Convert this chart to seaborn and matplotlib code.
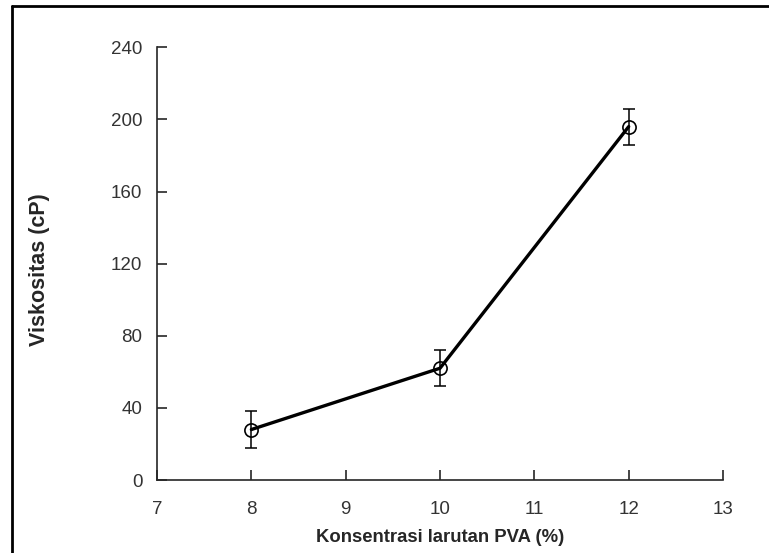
import matplotlib

matplotlib.use("Agg")
import matplotlib.pyplot as plt
import numpy as np
import pandas as pd
import seaborn as sns
from matplotlib.lines import Line2D

# --- DATA ---
konsentrasi = [8, 10, 12]
viskositas = [28, 62, 196]
std_dev = [10, 10, 10]
x_ticks = [7, 8, 9, 10, 11, 12, 13]
y_ticks = [0, 40, 80, 120, 160, 200, 240]

sns.set_style("ticks")
plt.rcParams["font.family"] = ["Liberation Sans", "DejaVu Sans"]

df = pd.DataFrame({"konsentrasi": konsentrasi, "viskositas": viskositas})

fig = plt.figure(figsize=(7.69, 5.53), dpi=100)
ax = fig.add_axes([0.2042, 0.132, 0.736, 0.7825])

# error bars first, line + hollow markers on top
ax.errorbar(
    konsentrasi,
    viskositas,
    yerr=std_dev,
    fmt="none",
    ecolor="black",
    elinewidth=1.1,
    capsize=4,
    capthick=1.1,
)
sns.lineplot(
    data=df,
    x="konsentrasi",
    y="viskositas",
    color="black",
    linewidth=2.4,
    marker="o",
    markersize=9.5,
    markerfacecolor="none",
    markeredgecolor="black",
    markeredgewidth=1.2,
    ax=ax,
)

ax.set_xlim(7, 13)
ax.set_ylim(0, 240)
ax.set_xticks(x_ticks)
ax.set_yticks(y_ticks)
ax.tick_params(
    direction="in", length=7, width=1.2, labelsize=13.5, labelcolor="#333333"
)
ax.tick_params(axis="x", pad=15)
ax.tick_params(axis="y", pad=10.5)

ax.set_xlabel("Konsentrasi larutan PVA (%)", fontsize=13.3, fontweight="bold", va="center")
ax.set_ylabel("Viskositas (cP)", fontsize=15.5, fontweight="bold", va="center")
ax.xaxis.set_label_coords(0.501, -0.134)
ax.yaxis.set_label_coords(-0.2085, 0.487)

sns.despine(ax=ax)
for side in ["left", "bottom"]:
    ax.spines[side].set_linewidth(1.2)

# outer frame (only left and top edges are visible in the picture)
fig.add_artist(Line2D([0.0156, 0.0156], [0, 0.9892], transform=fig.transFigure, color="black", linewidth=2))
fig.add_artist(Line2D([0.0156, 1.0], [0.9892, 0.9892], transform=fig.transFigure, color="black", linewidth=2))

plt.savefig("out.png", dpi=100)
plt.close()
